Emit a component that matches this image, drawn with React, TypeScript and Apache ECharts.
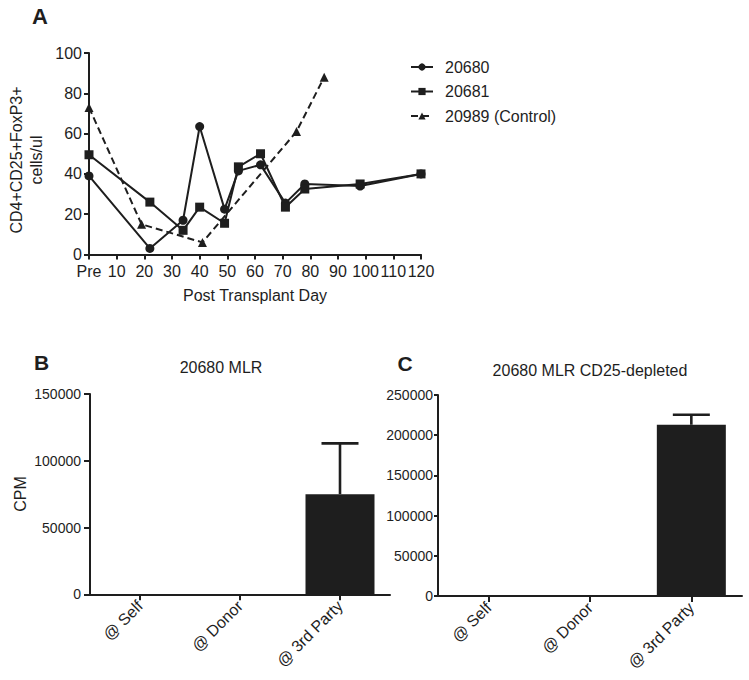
import React, { useEffect, useRef } from 'react';
import * as echarts from 'echarts';

// ---- Panel A data ----
const dayTicks = [0, 10, 20, 30, 40, 50, 60, 70, 80, 90, 100, 110, 120];
const days20680 = [0, 22, 34, 40, 49, 54, 62, 71, 78, 98, 120];
const vals20680 = [39, 3, 17, 63.5, 22.5, 41.5, 44.5, 25.5, 35, 34, 40];
const days20681 = [0, 22, 34, 40, 49, 54, 62, 71, 78, 98, 120];
const vals20681 = [49.5, 26, 12, 23.5, 15.5, 43.5, 50, 23.5, 32.5, 35, 40];
const days20989 = [0, 19, 41, 75, 85];
const vals20989 = [73, 15, 6, 61, 88];

// ---- Panels B / C data ----
const mlrCategories = ['@ Self', '@ Donor', '@ 3rd Party'];
const mlrMeans = [0, 0, 75000];
const mlrSD = [0, 0, 38000];
const depletedMeans = [0, 0, 213000];
const depletedSD = [0, 0, 12500];

const FONT = '"Liberation Sans", Arial, Helvetica, sans-serif';
const INK = '#1e1e1e';

const pairs = (xs: number[], ys: number[]) => xs.map((x, i) => [x, ys[i]]);
const errData = (means: number[], sd: number[]) =>
  means.map((m, i) => [i, m, m + sd[i]]).filter((d, i) => sd[i] > 0);

const errorRender = (params: any, api: any) => {
  const x = api.value(0);
  const p0 = api.coord([x, api.value(1)]);
  const p1 = api.coord([x, api.value(2)]);
  const half = 18.5;
  return {
    type: 'group',
    children: [
      { type: 'line', shape: { x1: p0[0], y1: p0[1], x2: p1[0], y2: p1[1] }, style: { stroke: INK, lineWidth: 2.6 } },
      { type: 'line', shape: { x1: p1[0] - half, y1: p1[1], x2: p1[0] + half, y2: p1[1] }, style: { stroke: INK, lineWidth: 2.6 } },
    ],
  };
};

export default function App() {
  const ref = useRef<HTMLDivElement>(null);
  useEffect(() => {
    const chart = echarts.init(ref.current!, null, { renderer: 'svg' });
    const axisLine = { show: true, lineStyle: { color: INK, width: 2 } };
    const plain = (v: number) => String(v);
    const lineSeries = (name: string, xs: number[], ys: number[], symbol: string, dashed: boolean) => ({
      name,
      type: 'line',
      xAxisIndex: 0,
      yAxisIndex: 0,
      data: pairs(xs, ys),
      symbol,
      symbolSize: 9,
      showSymbol: true,
      lineStyle: { color: INK, width: 2, type: dashed ? [7, 4] : 'solid' },
      itemStyle: { color: INK },
    });
    const catAxis = (gridIndex: number) => ({
      type: 'category',
      gridIndex,
      data: mlrCategories,
      axisLine,
      axisTick: { show: true, alignWithLabel: true, length: 6, lineStyle: { color: INK, width: 2 } },
      axisLabel: { fontFamily: FONT, fontSize: 16, color: INK, rotate: 45, margin: 9, interval: 0 },
    });
    const option: any = {
      animation: false,
      backgroundColor: '#fff',
      textStyle: { fontFamily: FONT, color: INK },
      grid: [
        { left: 89, right: 328, top: 53, bottom: 425.5 },
        { left: 90, right: 359, top: 394, bottom: 85.7 },
        { left: 438, right: 7, top: 395, bottom: 84 },
      ],
      legend: {
        left: 405,
        top: 54,
        orient: 'vertical',
        itemWidth: 22,
        itemHeight: 9,
        itemGap: 8.5,
        textStyle: { fontFamily: FONT, fontSize: 16, color: INK, lineHeight: 16, padding: [0, 0, 0, 7] },
        data: ['20680', '20681', '20989 (Control)'],
      },
      xAxis: [
        {
          type: 'value',
          gridIndex: 0,
          min: 0,
          max: 120,
          interval: 10,
          axisLine,
          axisTick: { show: true, length: 5, lineStyle: { color: INK, width: 2 } },
          splitLine: { show: false },
          axisLabel: {
            fontFamily: FONT,
            fontSize: 16,
            color: INK,
            margin: 9,
            formatter: (v: number) => (dayTicks.indexOf(v) === 0 ? 'Pre' : String(v)),
          },
        },
        catAxis(1),
        catAxis(2),
      ],
      yAxis: [
        {
          type: 'value',
          gridIndex: 0,
          min: 0,
          max: 100,
          interval: 20,
          axisLine,
          axisTick: { show: true, length: 5, lineStyle: { color: INK, width: 2 } },
          splitLine: { show: false },
          axisLabel: { fontFamily: FONT, fontSize: 16, color: INK, margin: 7, formatter: plain },
        },
        {
          type: 'value',
          gridIndex: 1,
          min: 0,
          max: 150000,
          interval: 50000,
          axisLine,
          axisTick: { show: true, length: 6, lineStyle: { color: INK, width: 2 } },
          splitLine: { show: false },
          axisLabel: { fontFamily: FONT, fontSize: 14, color: INK, margin: 9, formatter: plain },
        },
        {
          type: 'value',
          gridIndex: 2,
          min: 0,
          max: 250000,
          interval: 50000,
          axisLine,
          axisTick: { show: true, length: 4, lineStyle: { color: INK, width: 2 } },
          splitLine: { show: false },
          axisLabel: { fontFamily: FONT, fontSize: 14, color: INK, margin: 5, formatter: plain },
        },
      ],
      series: [
        lineSeries('20680', days20680, vals20680, 'circle', false),
        lineSeries('20681', days20681, vals20681, 'rect', false),
        lineSeries('20989 (Control)', days20989, vals20989, 'triangle', true),
        {
          type: 'bar',
          xAxisIndex: 1,
          yAxisIndex: 1,
          data: mlrMeans,
          barWidth: 69,
          itemStyle: { color: INK },
        },
        {
          type: 'custom',
          xAxisIndex: 1,
          yAxisIndex: 1,
          data: errData(mlrMeans, mlrSD),
          encode: { x: 0, y: [1, 2] },
          renderItem: errorRender,
          z: 3,
        },
        {
          type: 'bar',
          xAxisIndex: 2,
          yAxisIndex: 2,
          data: depletedMeans,
          barWidth: 69,
          itemStyle: { color: INK },
        },
        {
          type: 'custom',
          xAxisIndex: 2,
          yAxisIndex: 2,
          data: errData(depletedMeans, depletedSD),
          encode: { x: 0, y: [1, 2] },
          renderItem: errorRender,
          z: 3,
        },
      ],
      graphic: [
        { type: 'text', x: 40, y: 16, style: { text: 'A', font: `bold 22px ${FONT}`, fill: INK, align: 'center', verticalAlign: 'middle' } },
        { type: 'text', x: 41.5, y: 362, style: { text: 'B', font: `bold 21px ${FONT}`, fill: INK, align: 'center', verticalAlign: 'middle' } },
        { type: 'text', x: 405, y: 363, style: { text: 'C', font: `bold 21px ${FONT}`, fill: INK, align: 'center', verticalAlign: 'middle' } },
        { type: 'text', x: 221, y: 367, style: { text: '20680 MLR', font: `16px ${FONT}`, fill: INK, align: 'center', verticalAlign: 'middle' } },
        { type: 'text', x: 590, y: 370, style: { text: '20680 MLR CD25-depleted', font: `16px ${FONT}`, fill: INK, align: 'center', verticalAlign: 'middle' } },
        { type: 'text', x: 255, y: 295, style: { text: 'Post Transplant Day', font: `16px ${FONT}`, fill: INK, align: 'center', verticalAlign: 'middle' } },
        {
          type: 'text', x: 26, y: 160, rotation: Math.PI / 2,
          style: { text: 'CD4+CD25+FoxP3+\ncells/ul', font: `16px ${FONT}`, lineHeight: 20, fill: INK, align: 'center', verticalAlign: 'middle' },
        },
        { type: 'text', x: 20, y: 494, rotation: Math.PI / 2, style: { text: 'CPM', font: `16px ${FONT}`, fill: INK, align: 'center', verticalAlign: 'middle' } },
      ],
    };
    chart.setOption(option);
    return () => chart.dispose();
  }, []);
  return <div ref={ref} style={{ position: 'absolute', left: 0, top: 0, width: 749, height: 680, background: '#fff' }} />;
}
